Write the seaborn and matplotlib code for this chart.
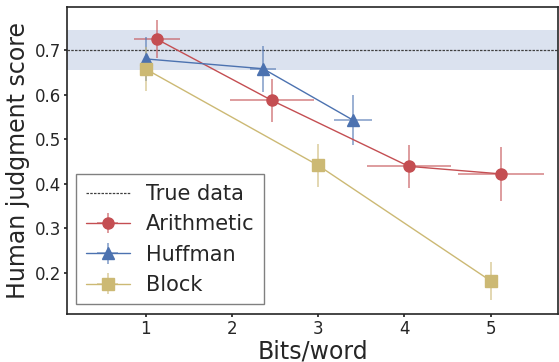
import numpy as np
import matplotlib
matplotlib.use("Agg")
import matplotlib.pyplot as plt
import seaborn as sns

# Values
arith_x = [1.13, 2.46, 4.05, 5.12]
arith_y = [0.724, 0.587, 0.439, 0.422]
arith_xerr = [0.27, 0.49, 0.49, 0.50]
arith_yerr = [0.043, 0.048, 0.049, 0.060]

huff_x = [1.00, 2.36, 3.40]
huff_y = [0.680, 0.658, 0.543]
huff_xerr = [0.02, 0.15, 0.22]
huff_yerr = [0.050, 0.052, 0.055]

block_x = [1.00, 3.00, 5.00]
block_y = [0.657, 0.441, 0.182]
block_xerr = [0.0, 0.0, 0.0]
block_yerr = [0.049, 0.048, 0.042]

true_value = 0.70
true_low, true_high = 0.655, 0.745

sns.set_theme(style="ticks")
plt.rcParams['font.family'] = ['DejaVu Sans']
pal = sns.color_palette("deep")
red, blue, yellow = pal[3], pal[0], pal[8]

fig, ax = plt.subplots(figsize=(5.59, 3.62), dpi=100)

ax.axhspan(true_low, true_high, color=blue, alpha=0.2, lw=0)
ax.axhline(true_value, color="0.25", ls="--", lw=0.9, dashes=(2, 1), label="True data")

series = [
    ("Arithmetic", arith_x, arith_y, arith_xerr, arith_yerr, red, "o"),
    ("Huffman", huff_x, huff_y, huff_xerr, huff_yerr, blue, "^"),
    ("Block", block_x, block_y, block_xerr, block_yerr, yellow, "s"),
]
for name, x, y, xe, ye, c, m in series:
    ax.errorbar(x, y, xerr=xe, yerr=ye, color=c, marker=m, ms=8, lw=1,
                elinewidth=1.3, ecolor=(*c, 0.6), label=name)

ax.set_xlim(0.085, 5.78)
ax.set_ylim(0.108, 0.796)
ax.set_xticks([1, 2, 3, 4, 5])
ax.set_yticks([0.2, 0.3, 0.4, 0.5, 0.6, 0.7])
ax.tick_params(labelsize=12, length=2.5, pad=2)
ax.set_xlabel("Bits/word", fontsize=17, labelpad=1)
ax.set_ylabel("Human judgment score", fontsize=17, labelpad=3)
for s in ax.spines.values():
    s.set_color("0.15")
    s.set_linewidth(1.2)

leg = ax.legend(loc="lower left", fontsize=15, fancybox=False, framealpha=1,
                edgecolor="0.5", borderaxespad=0.45, labelspacing=0.5,
                handlelength=2.1, handletextpad=0.8, borderpad=0.45)
leg.get_frame().set_linewidth(1.0)

fig.subplots_adjust(left=0.12, right=0.998, top=0.98, bottom=0.133)
fig.savefig("out.png", dpi=100)
